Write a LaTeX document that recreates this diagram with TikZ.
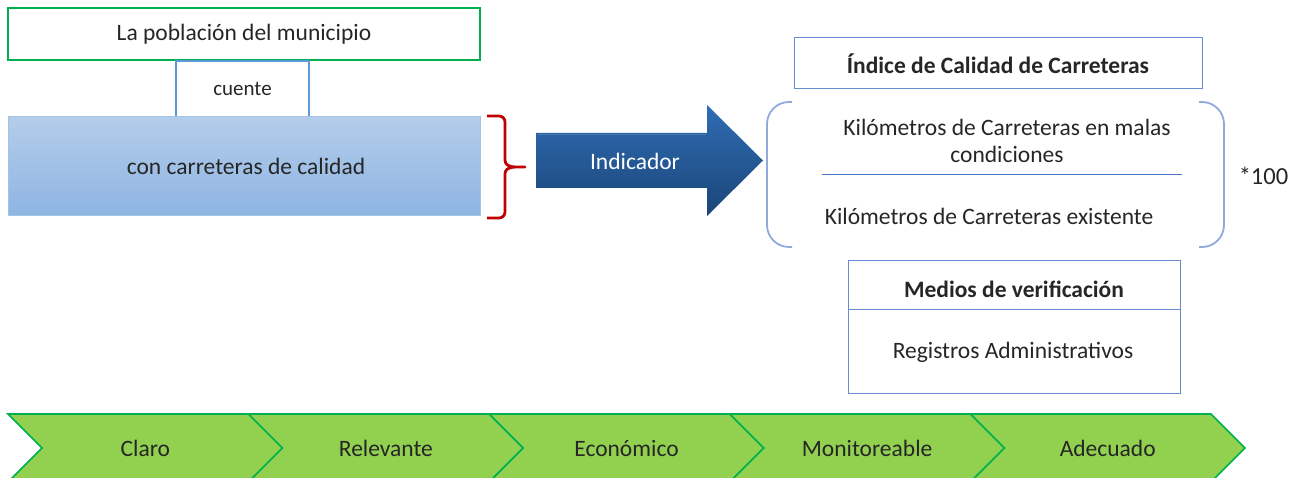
\documentclass[tikz,border=0pt]{standalone}
\usepackage{fontspec}
\setmainfont{Carlito}
\definecolor{txt}{HTML}{262626}
\definecolor{grn}{HTML}{00B050}
\definecolor{chev}{HTML}{92D050}
\definecolor{bluebd}{HTML}{5B9BD5}
\definecolor{bluebd2}{HTML}{4472C4}
\definecolor{brk}{HTML}{8FAADC}
\definecolor{boxtop}{HTML}{B4CDEA}
\definecolor{boxbot}{HTML}{8EB4E3}
\definecolor{arrtop}{HTML}{2F6DB3}
\definecolor{arrbot}{HTML}{1B4579}
\definecolor{bracered}{HTML}{C00000}
\tikzset{
  lbl/.style={text=txt, inner sep=0pt, outer sep=0pt, font=\fontsize{23.5}{27}\selectfont},
  plainbox/.style={inner sep=0pt, outer sep=0pt},
  chevshape/.style={fill=chev, draw=grn, line width=1.6pt, line join=miter},
  chevlbl/.style={text=txt, inner sep=0pt, font=\fontsize{23.5}{27}\selectfont},
}
\begin{document}
\begin{tikzpicture}[x=1pt,y=-1pt]
\useasboundingbox (0,0) rectangle (1301,478);
\clip (0,0) rectangle (1301,478);
% top box
\node[plainbox, draw=grn, line width=2pt, minimum width=472pt, minimum height=52pt, lbl] (pob) at (244,34) {La población del municipio};
% cuente
\node[plainbox, draw=bluebd, line width=2pt, minimum width=133pt, minimum height=56pt, lbl, font=\fontsize{21}{24}\selectfont] (cuente) at (242.5,89) {cuente};
% blue gradient box
\shade[top color=boxtop, bottom color=boxbot] (8,117) rectangle (480,216);
\draw[color=boxtop!80!bluebd, line width=1pt] (8,117) rectangle (480,216);
\node[lbl] (cal) at (246,166.5) {con carreteras de calidad};
% brace
\coordinate (bt) at (487,116);
\coordinate (bm) at (525,167);
\coordinate (bb) at (487,218);
\draw[bracered, line width=2.8pt, line cap=butt, line join=round]
  (bt) -- (499,116) to[out=0,in=90] (505,122) -- (505,160) to[out=270,in=180] (bm)
  to[out=180,in=90] (505,174) -- (505,212) to[out=270,in=0] (499,218) -- (bb);
% arrow
\shade[top color=arrtop, bottom color=arrbot, draw=none]
  (536,133) -- (707,133) -- (707,105) -- (763,160.5) -- (707,216) -- (707,188) -- (536,188) -- cycle;
\draw[arrtop!60!white, opacity=0.35, line width=1pt] (538,135) -- (706,135);
\node[inner sep=0pt, text=white, font=\fontsize{23.5}{27}\selectfont] (ind) at (635,161) {Indicador};
% title box
\node[plainbox, draw=bluebd2!80!white, line width=1pt, minimum width=408pt, minimum height=51pt, lbl, font=\fontsize{23.5}{27}\selectfont\bfseries] (titulo) at (998,63.5) {Índice de Calidad de Carreteras};
% brackets
\draw[brk, line width=1.8pt, rounded corners=22pt] (792,102) -- (767,102) -- (767,247) -- (792,247);
\draw[brk, line width=1.8pt, rounded corners=22pt] (1199,102) -- (1224,102) -- (1224,247) -- (1199,247);
% fraction
\coordinate (fl) at (822,175);
\coordinate (fr) at (1182,175);
\draw[bluebd2, line width=1pt] (fl) -- (fr);
\node[lbl, align=center, font=\fontsize{23.5}{27}\selectfont] (num) at (1007,140.5) {Kilómetros de Carreteras en malas\\condiciones};
\node[lbl] (den) at (989,216) {Kilómetros de Carreteras existente};
\node[lbl, font=\fontsize{24.5}{27}\selectfont] (cien) at (1263.5,176) {*100};
% medios box
\draw[bluebd2!80!white, line width=1pt] (848,261) rectangle (1180,393);
\draw[bluebd2!80!white, line width=1pt] (848,310) -- (1180,310);
\node[lbl, font=\fontsize{23.5}{27}\selectfont\bfseries] (medios) at (1014,289) {Medios de verificación};
\node[lbl] (reg) at (1013,352) {Registros Administrativos};
% chevrons
\foreach \i/\t in {0/Claro,1/Relevante,2/Económico,3/Monitoreable,4/Adecuado}{
  \pgfmathsetmacro{\xa}{8+240.6*\i}
  \pgfmathsetmacro{\xb}{8+240.6*(\i+1)}
  \draw[chevshape] (\xa,414) -- (\xb,414) -- ({\xb+34},448) -- (\xb,482) -- (\xa,482) -- ({\xa+34},448) -- cycle;
  \node[chevlbl] (c\i) at ({\xa+137.3},448) {\t};
}
\end{tikzpicture}
\end{document}
